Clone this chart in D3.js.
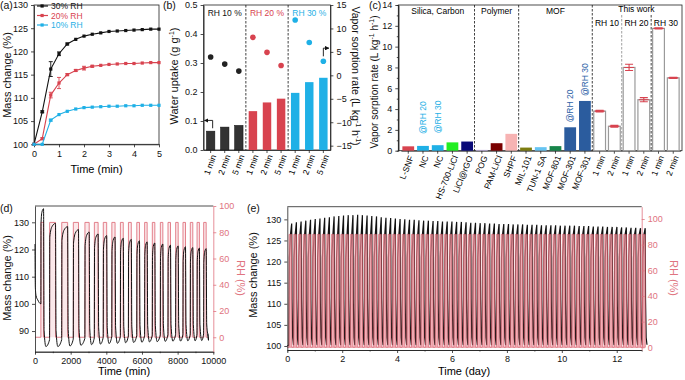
<!DOCTYPE html>
<html lang="en">
<head>
<meta charset="utf-8">
<title>Water sorption panels</title>
<script src="https://cdnjs.cloudflare.com/ajax/libs/d3/7.8.5/d3.min.js"></script>
<style>
body{margin:0;background:#fff;}
svg{font-family:"Liberation Sans",Arial,sans-serif;display:block;}
</style>
</head>
<body>
<div id="viz"></div>
<script>
// ---- panel (a): mass change vs time
const aTime = [0, 0.33, 0.67, 1, 1.33, 1.67, 2, 2.33, 2.67, 3, 3.33, 3.67, 4, 4.33, 4.67, 5];
const a30 = [100, 107, 116.2, 119.5, 121.6, 122.6, 123.3, 123.7, 124.0, 124.3, 124.4, 124.5, 124.6, 124.7, 124.8, 124.8];
const a20 = [100, 101.2, 110.6, 113.2, 115.0, 115.9, 116.4, 116.8, 117.0, 117.2, 117.3, 117.4, 117.4, 117.5, 117.6, 117.6];
const a10 = [100, 100, 105.2, 106.4, 107.1, 107.6, 107.9, 108.0, 108.1, 108.2, 108.2, 108.3, 108.3, 108.4, 108.4, 108.4];
const a30Err = [0, 0.2, 1.6, 0.4, 0.2, 0.1, 0, 0, 0, 0, 0, 0, 0, 0, 0, 0];
const a20Err = [0, 0.2, 0.6, 1.2, 0.2, 0.2, 0.4, 0.2, 0, 0, 0, 0, 0, 0, 0, 0];
const a10Err = [0, 0.1, 0.2, 0.1, 0.1, 0, 0, 0, 0, 0, 0, 0, 0, 0, 0, 0];
const aNames = ["30% RH", "20% RH", "10% RH"];

// ---- panel (b): uptake bars + rate dots
const bRH = ["RH 10 %", "RH 20 %", "RH 30 %"];
const bTimes = ["1 min", "2 min", "5 min"];
const bUptake = [0.065, 0.079, 0.085, 0.134, 0.164, 0.177, 0.197, 0.234, 0.249];
const bRate = [3.9, 2.4, 0.9, 8.1, 4.9, 2.1, 11.8, 7.0, 3.0];

// ---- panel (c): comparison of sorption rates
const cNames = ["L-SNF", "NC", "NC", "HS-700-LiCl", "LiCl@rGO", "POG", "PAM-LiCl", "SHPF", "MIL-101", "TUN-1 SA", "MOF-801", "MOF-301", "MOF-301", "1 min", "2 min", "1 min", "2 min", "1 min", "2 min"];
const cRate = [0.42, 0.46, 0.53, 0.8, 0.88, 0.08, 0.72, 1.62, 0.3, 0.34, 0.44, 2.25, 4.78, 3.8, 2.35, 8.0, 4.9, 11.75, 7.0];
const cErr = [0, 0, 0, 0, 0, 0, 0, 0, 0, 0, 0, 0, 0, 0.08, 0.08, 0.3, 0.2, 0.05, 0.05];
const cGroups = ["Silica, Carbon", "Polymer", "MOF", "This work"];
const cGroupStart = [0, 5, 8, 13];
const cSub = ["RH 10", "RH 20", "RH 30"];
const cSubStart = [13, 15, 17];
const cNotes = [[1, "@RH 20"], [2, "@RH 30"], [11, "@RH 20"], [12, "@RH 30"]];

// ---- panel (d): long cycling, minutes
const dStartT = [0, 20, 60, 150, 330];
const dStartM = [122, 106, 103, 101.5, 100];
const dRise = [330, 820, 1500, 2150, 2800, 3330, 3830, 4310, 4790, 5240, 5710, 6150, 6580, 7030, 7460, 7890, 8300, 8710, 9090, 9460];
const dFall = [480, 1150, 1830, 2440, 3040, 3540, 4020, 4490, 4950, 5400, 5860, 6290, 6720, 7170, 7600, 8030, 8440, 8850, 9220, 9600];
const dPeak = [135, 129.6, 128.4, 127.3, 126.4, 125.7, 125.1, 124.6, 124.1, 123.7, 123.2, 122.8, 122.4, 122.0, 121.6, 121.3, 121.0, 120.7, 120.5, 120.3];
const dTrough = [84.3, 84.3, 84.5, 84.8, 85.0, 85.2, 85.4, 85.5, 85.7, 85.8, 85.9, 86.0, 86.1, 86.2, 86.3, 86.3, 86.4, 86.4, 86.5, 86.6];
const dEnd = 9700;
const rhHigh = 87.5;

// ---- panel (e): 76 cycles, days
const eFirstPeak = 0.16;
const eCycle = 0.1717;
const ePeak = [129.0, 129.3, 129.5, 129.7, 129.9, 130.1, 130.2, 130.4, 130.5, 130.7, 130.8, 130.9, 131.0,
  131.0, 131.1, 131.0, 130.9,
  130.8, 130.7, 130.5, 130.4, 130.3, 130.2, 130.1, 130.0,
  129.9, 129.9, 129.8, 129.7, 129.7, 129.6, 129.6, 129.5, 129.5, 129.5, 129.4, 129.4,
  129.3, 129.2, 129.2, 129.1, 129.1, 129.0, 129.0, 128.9, 128.9, 128.9, 128.8, 128.8,
  128.8, 128.7, 128.7, 128.7, 128.6, 128.6, 128.6, 128.6, 128.5, 128.5, 128.5, 128.5,
  128.4, 128.4, 128.4, 128.3, 128.3, 128.3, 128.2, 128.2, 128.2, 128.1, 128.1, 128.0, 128.0, 127.9, 127.9];

const black = "#111", red = "#d8434f", blue = "#1fb0e6", rhRed = "#e07480", axisCol = "#222";

const svg = d3.select("#viz").append("svg").attr("width", 685).attr("height", 380);

function styleAxis(g, color) {
  g.selectAll("path,line").attr("stroke", color || axisCol).attr("stroke-width", 0.8);
  g.selectAll("text").attr("fill", color || "#111").attr("font-size", 9);
}
function frame(x0, y0, x1, y1) {
  svg.append("rect").attr("x", x0).attr("y", y0).attr("width", x1 - x0).attr("height", y1 - y0)
    .attr("fill", "none").attr("stroke", axisCol).attr("stroke-width", 0.8);
}
function vTitle(x, y, txt, rot, color) {
  return svg.append("text").attr("transform", `translate(${x},${y}) rotate(${rot})`)
    .attr("text-anchor", "middle").attr("font-size", 11).attr("fill", color || "#111").text(txt);
}
function label(x, y, txt) {
  svg.append("text").attr("x", x).attr("y", y).attr("font-size", 10.5).attr("fill", "#111").text(txt);
}

// ================= (a)
const ax = d3.scaleLinear().domain([0, 5]).range([34, 159]);
const ay = d3.scaleLinear().domain([100, 130]).range([144.3, 5]);
svg.append("g").attr("transform", "translate(0,144.3)")
  .call(d3.axisBottom(ax).ticks(5).tickSize(3).tickSizeOuter(0)).call(styleAxis);
svg.append("g").attr("transform", "translate(34,0)")
  .call(d3.axisLeft(ay).tickValues(d3.range(100, 131, 5)).tickSize(3).tickSizeOuter(0)).call(styleAxis);
frame(34, 5, 159, 144.3);
const aSeries = [[a30, a30Err, black], [a20, a20Err, red], [a10, a10Err, blue]];
aSeries.forEach(([vals, err, col], k) => {
  svg.append("path").datum(vals)
    .attr("d", d3.line().x((d, i) => ax(aTime[i])).y(d => ay(d)))
    .attr("fill", "none").attr("stroke", col).attr("stroke-width", 1.1);
  vals.forEach((v, i) => {
    if (err[i] > 0.15) {
      const x = ax(aTime[i]);
      svg.append("path").attr("d", `M${x},${ay(v - err[i])}V${ay(v + err[i])}M${x - 2},${ay(v - err[i])}h4M${x - 2},${ay(v + err[i])}h4`)
        .attr("stroke", col).attr("stroke-width", 0.9);
    }
    svg.append("rect").attr("x", ax(aTime[i]) - 1.6).attr("y", ay(v) - 1.6)
      .attr("width", 3.2).attr("height", 3.2).attr("fill", col);
  });
  const ly = 9 + k * 9.5;
  svg.append("line").attr("x1", 37).attr("x2", 48).attr("y1", ly - 3).attr("y2", ly - 3).attr("stroke", col).attr("stroke-width", 1.2);
  svg.append("rect").attr("x", 40.5).attr("y", ly - 4.6).attr("width", 3.2).attr("height", 3.2).attr("fill", col);
  svg.append("text").attr("x", 51).attr("y", ly).attr("font-size", 8.5).attr("fill", col).text(aNames[k]);
});
vTitle(10.5, 75, "Mass change (%)", -90);
svg.append("text").attr("x", 96.5).attr("y", 173).attr("text-anchor", "middle").attr("font-size", 11).text("Time (min)");
label(0, 9, "(a)");

// ================= (b)
const bx = d3.scaleBand().domain(d3.range(9)).range([203.6, 330.4]).paddingInner(0.4).paddingOuter(0.2);
const byL = d3.scaleLinear().domain([0, 0.5]).range([150, 5]);
const byR = d3.scaleLinear().domain([-15.92, 15]).range([150, 5]);
const bCols = ["#333", red, blue];
svg.append("g").attr("transform", "translate(203.6,0)")
  .call(d3.axisLeft(byL).ticks(5).tickFormat(d3.format(".1f")).tickSize(3).tickSizeOuter(0)).call(styleAxis);
svg.append("g").attr("transform", "translate(330.4,0)")
  .call(d3.axisRight(byR).tickValues(d3.range(-15, 16, 5)).tickSize(3).tickSizeOuter(0)).call(styleAxis);
const bxAxis = svg.append("g").attr("transform", "translate(0,150)")
  .call(d3.axisBottom(bx).tickSize(3).tickSizeOuter(0).tickFormat(""));
styleAxis(bxAxis);
frame(203.6, 5, 330.4, 150);
bUptake.forEach((v, i) => {
  const g = Math.floor(i / 3);
  svg.append("rect").attr("x", bx(i)).attr("y", byL(v)).attr("width", bx.bandwidth()).attr("height", 150 - byL(v))
    .attr("fill", bCols[g]).attr("stroke", g === 0 ? "#111" : "none").attr("stroke-width", 0.5);
  svg.append("circle").attr("cx", bx(i) + bx.bandwidth() / 2).attr("cy", byR(bRate[i])).attr("r", 2.8).attr("fill", g === 0 ? "#222" : bCols[g]);
  svg.append("text").attr("transform", `translate(${bx(i) + bx.bandwidth() / 2 + 3},${155}) rotate(-70)`)
    .attr("text-anchor", "end").attr("font-size", 8.5).attr("dy", "0.35em").text(bTimes[i % 3]);
});
[3, 6].forEach(i => {
  const x = bx(i) - bx.step() * 0.2;
  svg.append("line").attr("x1", x).attr("x2", x).attr("y1", 5).attr("y2", 150)
    .attr("stroke", "#111").attr("stroke-width", 0.8).attr("stroke-dasharray", "2.5,1.5");
});
bRH.forEach((t, g) => {
  svg.append("text").attr("x", bx(g * 3 + 1) + bx.bandwidth() / 2).attr("y", 16).attr("text-anchor", "middle")
    .attr("font-size", 8.5).attr("fill", g === 0 ? "#111" : bCols[g]).text(t);
});
const defs = svg.append("defs");
defs.append("marker").attr("id", "arr").attr("viewBox", "0 0 10 10").attr("refX", 9).attr("refY", 5)
  .attr("markerWidth", 5).attr("markerHeight", 5).attr("orient", "auto")
  .append("path").attr("d", "M0,0L10,5L0,10z").attr("fill", "#111");
// arrows pointing to the axes
const bArrL = bx(0) + bx.bandwidth() / 2 + 2;
svg.append("path").attr("d", `M${bArrL},${byL(0.075)}V${byL(0.102)}H${bx(0) - 2}`)
  .attr("fill", "none").attr("stroke", "#111").attr("stroke-width", 0.9).attr("marker-end", "url(#arr)");
const bArrR = bx(8) + bx.bandwidth() / 2;
svg.append("path").attr("d", `M${bArrR},${byR(3.2) - 4}V${byR(5.8)}H${329}`)
  .attr("fill", "none").attr("stroke", "#111").attr("stroke-width", 0.9).attr("marker-end", "url(#arr)");
const bT1 = vTitle(178, 76, "", -90);
bT1.append("tspan").text("Water uptake  (g g");
bT1.append("tspan").attr("dy", -4).attr("font-size", 7).text("-1");
bT1.append("tspan").attr("dy", 4).text(")");
const bT2 = vTitle(352, 76, "", 90).attr("font-size", 10.5);
bT2.append("tspan").text("Vapor sorption rate (L kg");
bT2.append("tspan").attr("dy", -4).attr("font-size", 7).text("-1");
bT2.append("tspan").attr("dy", 4).text(" h");
bT2.append("tspan").attr("dy", -4).attr("font-size", 7).text("-1");
bT2.append("tspan").attr("dy", 4).text(")");
label(163, 9, "(b)");

// ================= (c)
const cx = d3.scaleBand().domain(d3.range(cNames.length)).range([400.9, 680.6]).paddingInner(0.2).paddingOuter(0.1);
const cy = d3.scaleLinear().domain([0, 14]).range([150.7, 5]);
const cCols = [red, blue, blue, "#22ee22", "#0a0a78", "#c8b8e8", "#7a0000", "#f7b3b3", "#7d7d10", "#66c4f2", "#17854a", "#2b5c9e", "#2b5c9e"];
svg.append("g").attr("transform", "translate(398.3,0)")
  .call(d3.axisLeft(cy).tickValues(d3.range(0, 15, 2)).tickSize(3).tickSizeOuter(0)).call(styleAxis);
svg.append("g").attr("transform", "translate(398.3,0)")
  .call(d3.axisLeft(cy).tickValues(d3.range(1, 14, 2)).tickSize(1.5).tickFormat("")).call(styleAxis);
const cxAxis = svg.append("g").attr("transform", "translate(0,150.7)")
  .call(d3.axisBottom(cx).tickSize(3).tickSizeOuter(0).tickFormat(""));
styleAxis(cxAxis);
frame(398.3, 5, 682, 150.7);
cRate.forEach((v, i) => {
  const mine = i >= 13;
  svg.append("rect").attr("x", cx(i)).attr("y", cy(v)).attr("width", cx.bandwidth()).attr("height", 150.7 - cy(v))
    .attr("fill", mine ? "#fff" : cCols[i]).attr("stroke", mine ? "#9a9a9a" : "none").attr("stroke-width", 1.2);
  if (mine) {
    const xm = cx(i) + cx.bandwidth() / 2;
    svg.append("path").attr("d", `M${cx(i) + 1},${cy(v)}h${cx.bandwidth() - 2}M${xm},${cy(v - cErr[i])}V${cy(v + cErr[i])}M${xm - 4},${cy(v - cErr[i])}h8M${xm - 4},${cy(v + cErr[i])}h8`)
      .attr("stroke", red).attr("stroke-width", 1.1).attr("fill", "none");
  }
  svg.append("text").attr("transform", `translate(${cx(i) + cx.bandwidth() / 2 + 3},${156}) rotate(-68)`)
    .attr("text-anchor", "end").attr("font-size", 8.5).attr("dy", "0.35em").text(cNames[i]);
});
cNotes.forEach(([i, t], k) => {
  const lift = k < 2 ? 12 : 5;
  svg.append("text").attr("transform", `translate(${cx(i) + cx.bandwidth() / 2},${cy(cRate[i]) - lift}) rotate(-90)`)
    .attr("dy", "0.35em").attr("font-size", 8.5).attr("fill", k < 2 ? blue : "#2f64a8").text(t);
});
cGroupStart.forEach((s, k) => {
  if (k > 0) {
    const x = cx(s) - cx.step() * 0.1;
    svg.append("line").attr("x1", x).attr("x2", x).attr("y1", 5).attr("y2", 150.7)
      .attr("stroke", "#111").attr("stroke-width", 0.8).attr("stroke-dasharray", "2.5,1.5");
  }
  const end = k < cGroupStart.length - 1 ? cGroupStart[k + 1] : cNames.length;
  const mid = (cx(s) + cx(end - 1) + cx.bandwidth()) / 2;
  svg.append("text").attr("x", mid).attr("y", k === 3 ? 12 : 14).attr("text-anchor", "middle").attr("font-size", 8.5).text(cGroups[k]);
});
cSubStart.forEach((s, k) => {
  if (k > 0) {
    const x = cx(s) - cx.step() * 0.1;
    svg.append("line").attr("x1", x).attr("x2", x).attr("y1", 15).attr("y2", 150.7)
      .attr("stroke", k === 1 ? "#888" : "#111").attr("stroke-width", 0.8).attr("stroke-dasharray", "2.5,1.5");
  }
  svg.append("text").attr("x", cx(s) + cx.step() * 0.9).attr("y", 26).attr("text-anchor", "middle").attr("font-size", 8.5).text(cSub[k]);
});
const cT = vTitle(378, 82, "", -90).attr("font-size", 10);
cT.append("tspan").text("Vapor sorption rate (L kg");
cT.append("tspan").attr("dy", -4).attr("font-size", 7).text("-1");
cT.append("tspan").attr("dy", 4).text(" h");
cT.append("tspan").attr("dy", -4).attr("font-size", 7).text("-1");
cT.append("tspan").attr("dy", 4).text(")");
label(369, 9, "(c)");

// ================= (d)
const dx = d3.scaleLinear().domain([0, 10000]).range([35, 213.3]);
const dyL = d3.scaleLinear().domain([82.4, 136]).range([351.7, 206]);
const dyR = d3.scaleLinear().domain([-11, 100]).range([351.7, 206]);
// RH pulses
dRise.forEach((r, i) => {
  svg.append("rect").attr("x", dx(r)).attr("y", dyR(rhHigh)).attr("width", dx(dFall[i]) - dx(r)).attr("height", dyR(0) - dyR(rhHigh))
    .attr("fill", "#f7cdd1").attr("fill-opacity", 0.45).attr("stroke", "none");
});
const dRH = [[0, 0]];
dRise.forEach((r, i) => dRH.push([r, 0], [r, rhHigh], [dFall[i], rhHigh], [dFall[i], 0]));
dRH.push([dEnd, 0]);
svg.append("path").datum(dRH).attr("d", d3.line().x(d => dx(d[0])).y(d => dyR(d[1])))
  .attr("fill", "none").attr("stroke", rhRed).attr("stroke-width", 0.9);
const dMass = dStartT.map((t, i) => [t, dStartM[i]]);
dRise.forEach((r, i) => {
  const f = dFall[i], p = dPeak[i], tr = dTrough[i];
  const next = i < dRise.length - 1 ? dRise[i + 1] : dEnd;
  dMass.push([r + 10, p - 5], [r + (f - r) * 0.4, p - 1.2], [f, p], [f + 30, tr + 6], [f + 130, tr], [next - 4, tr + 2.5]);
});
svg.append("path").datum(dMass).attr("d", d3.line().x(d => dx(d[0])).y(d => dyL(d[1])).curve(d3.curveMonotoneX))
  .attr("fill", "none").attr("stroke", black).attr("stroke-width", 1);
svg.append("g").attr("transform", "translate(0,351.7)")
  .call(d3.axisBottom(dx).tickValues(d3.range(0, 10001, 2000)).tickFormat(d3.format("d")).tickSize(3).tickSizeOuter(0)).call(styleAxis);
svg.append("g").attr("transform", "translate(0,351.7)")
  .call(d3.axisBottom(dx).tickValues(d3.range(1000, 10000, 2000)).tickSize(1.5).tickFormat("")).call(styleAxis);
svg.append("g").attr("transform", "translate(35,0)")
  .call(d3.axisLeft(dyL).tickValues(d3.range(90, 131, 10)).tickSize(3).tickSizeOuter(0)).call(styleAxis);
svg.append("line").attr("x1", 35).attr("x2", 213.3).attr("y1", 206).attr("y2", 206).attr("stroke", axisCol).attr("stroke-width", 0.8);
svg.append("g").attr("transform", "translate(213.3,0)")
  .call(d3.axisRight(dyR).tickValues(d3.range(0, 101, 20)).tickSize(3).tickSizeOuter(0)).call(g => styleAxis(g, rhRed));
vTitle(10.5, 278, "Mass change (%)", -90);
vTitle(237, 278, "RH (%)", 90, rhRed);
svg.append("text").attr("x", 124).attr("y", 375).attr("text-anchor", "middle").attr("font-size", 11).text("Time (min)");
label(0, 212, "(d)");

// ================= (e)
const ex = d3.scaleLinear().domain([0, 12.91]).range([287.3, 641.7]);
const eyL = d3.scaleLinear().domain([99.05, 133]).range([350, 206.7]);
const eyR = d3.scaleLinear().domain([-2.1, 109.6]).range([350, 206.7]);
const eMass = [[0, 100]];
const eRH = [[0, 0]];
ePeak.forEach((p, i) => {
  const pk = eFirstPeak + i * eCycle;
  const s = pk - 0.6 * eCycle;
  eMass.push([s, 100.2], [s + 0.12 * eCycle, 121], [s + 0.35 * eCycle, 126.5], [pk, p], [pk + 0.07 * eCycle, 111], [pk + 0.2 * eCycle, 102], [pk + 0.38 * eCycle, 100.3]);
  eRH.push([s, 0], [s + 0.03 * eCycle, rhHigh + 0.5], [pk, rhHigh + 0.5], [pk + 0.03 * eCycle, 0]);
});
svg.append("path").datum(eMass).attr("d", d3.line().x(d => ex(d[0])).y(d => eyL(d[1])))
  .attr("fill", "none").attr("stroke", black).attr("stroke-width", 1.2);
svg.append("path").datum(eRH).attr("d", d3.area().x(d => ex(d[0])).y0(eyR(0)).y1(d => eyR(d[1])))
  .attr("fill", "#ee8c97").attr("fill-opacity", 0.7).attr("stroke", "#d9606c").attr("stroke-width", 0.6);
svg.append("g").attr("transform", "translate(0,350)")
  .call(d3.axisBottom(ex).tickValues(d3.range(0, 13, 2)).tickSize(3).tickSizeOuter(0)).call(styleAxis);
svg.append("g").attr("transform", "translate(0,350)")
  .call(d3.axisBottom(ex).tickValues(d3.range(1, 13, 2)).tickSize(1.5).tickFormat("")).call(styleAxis);
svg.append("g").attr("transform", "translate(287.3,0)")
  .call(d3.axisLeft(eyL).tickValues(d3.range(100, 131, 5)).tickSize(3).tickSizeOuter(0)).call(styleAxis);
svg.append("line").attr("x1", 287.3).attr("x2", 641.7).attr("y1", 206.7).attr("y2", 206.7).attr("stroke", axisCol).attr("stroke-width", 0.8);
svg.append("g").attr("transform", "translate(641.7,0)")
  .call(d3.axisRight(eyR).tickValues(d3.range(0, 101, 20)).tickSize(3).tickSizeOuter(0)).call(g => styleAxis(g, rhRed));
vTitle(257, 275, "Mass change (%)", -90);
vTitle(670, 278, "RH (%)", 90, rhRed);
svg.append("text").attr("x", 464).attr("y", 375).attr("text-anchor", "middle").attr("font-size", 11).text("Time (day)");
label(247, 212, "(e)");
</script>
</body>
</html>
